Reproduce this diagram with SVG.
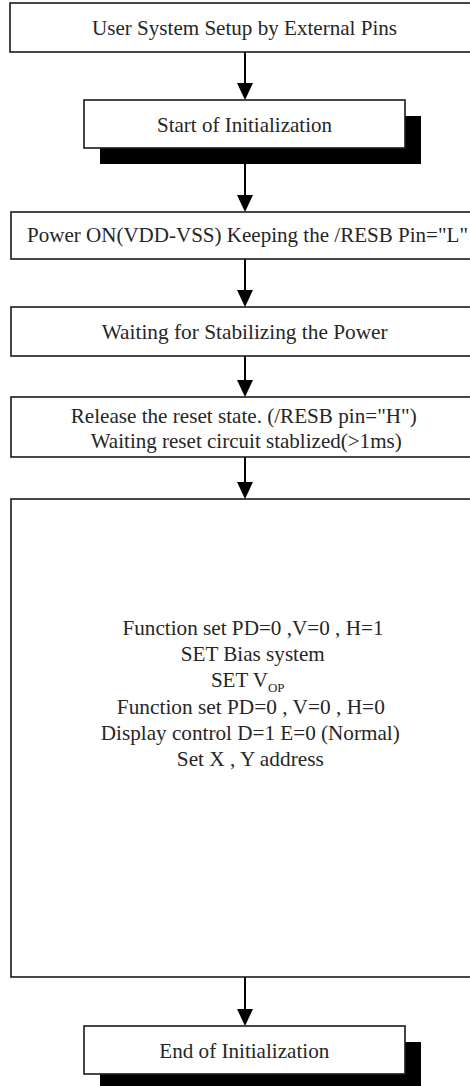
<svg xmlns="http://www.w3.org/2000/svg" width="470" height="1086" viewBox="0 0 470 1086">
<style>
.box{fill:#fff;stroke:#1a1a1a;stroke-width:1.6}
.shadow{fill:#000;stroke:none}
.t{font-family:"Liberation Serif","Times New Roman",serif;font-size:21px;fill:#262626;text-anchor:middle}
.sub{font-size:13px}
.conn{stroke:#000;stroke-width:2;fill:none}
</style>
<defs>
<marker id="ah" viewBox="0 0 17 16" refX="1" refY="8" markerWidth="17" markerHeight="16" markerUnits="userSpaceOnUse" orient="auto">
<path d="M0,0 L17,8 L0,16 z" fill="#000"/>
</marker>
</defs>
<g id="connectors">
<line class="conn" x1="245" y1="52" x2="245" y2="84" marker-end="url(#ah)"/>
<line class="conn" x1="245" y1="164" x2="245" y2="196" marker-end="url(#ah)"/>
<line class="conn" x1="245" y1="259" x2="245" y2="291" marker-end="url(#ah)"/>
<line class="conn" x1="245" y1="356" x2="245" y2="381" marker-end="url(#ah)"/>
<line class="conn" x1="245" y1="457" x2="245" y2="483" marker-end="url(#ah)"/>
<line class="conn" x1="245" y1="977" x2="245" y2="1010" marker-end="url(#ah)"/>
</g>
<g id="n1">
<rect class="box" x="10" y="3" width="480" height="49"/>
<text class="t" x="244.5" y="35" textLength="305" lengthAdjust="spacingAndGlyphs">User System Setup by External Pins</text>
</g>
<g id="n2">
<rect class="shadow" x="100" y="116" width="321" height="48"/>
<rect class="box" x="84" y="100" width="321" height="48"/>
<text class="t" x="244.5" y="131.5" textLength="175" lengthAdjust="spacingAndGlyphs">Start of Initialization</text>
</g>
<g id="n3">
<rect class="box" x="11" y="212" width="480" height="47"/>
<text class="t" x="247.5" y="242" textLength="441" lengthAdjust="spacingAndGlyphs">Power ON(VDD-VSS) Keeping the /RESB Pin="L"</text>
</g>
<g id="n4">
<rect class="box" x="11" y="307" width="480" height="49"/>
<text class="t" x="244.7" y="338.5" textLength="286" lengthAdjust="spacingAndGlyphs">Waiting for Stabilizing the Power</text>
</g>
<g id="n5">
<rect class="box" x="11" y="397" width="480" height="60"/>
<text class="t" x="243.7" y="422.5" textLength="346" lengthAdjust="spacingAndGlyphs">Release the reset state. (/RESB pin="H")</text>
<text class="t" x="246.2" y="447.5" textLength="311" lengthAdjust="spacingAndGlyphs">Waiting reset circuit stablized(&gt;1ms)</text>
</g>
<g id="n6">
<rect class="box" x="11" y="499" width="490" height="478"/>
<text class="t" x="253" y="635" textLength="261" lengthAdjust="spacingAndGlyphs">Function set PD=0 ,V=0 , H=1</text>
<text class="t" x="252.8" y="661" textLength="144" lengthAdjust="spacingAndGlyphs">SET Bias system</text>
<text class="t" x="247.7" y="687">SET V<tspan class="sub" dy="5">OP</tspan></text>
<text class="t" x="250.8" y="714" textLength="268" lengthAdjust="spacingAndGlyphs">Function set PD=0 , V=0 , H=0</text>
<text class="t" x="250.3" y="740" textLength="299" lengthAdjust="spacingAndGlyphs">Display control D=1 E=0 (Normal)</text>
<text class="t" x="250.3" y="766" textLength="147" lengthAdjust="spacingAndGlyphs">Set X , Y address</text>
</g>
<g id="n7">
<rect class="shadow" x="100" y="1042" width="321" height="48"/>
<rect class="box" x="84" y="1026" width="321" height="48"/>
<text class="t" x="244.3" y="1057.5" textLength="170" lengthAdjust="spacingAndGlyphs">End of Initialization</text>
</g>
</svg>
